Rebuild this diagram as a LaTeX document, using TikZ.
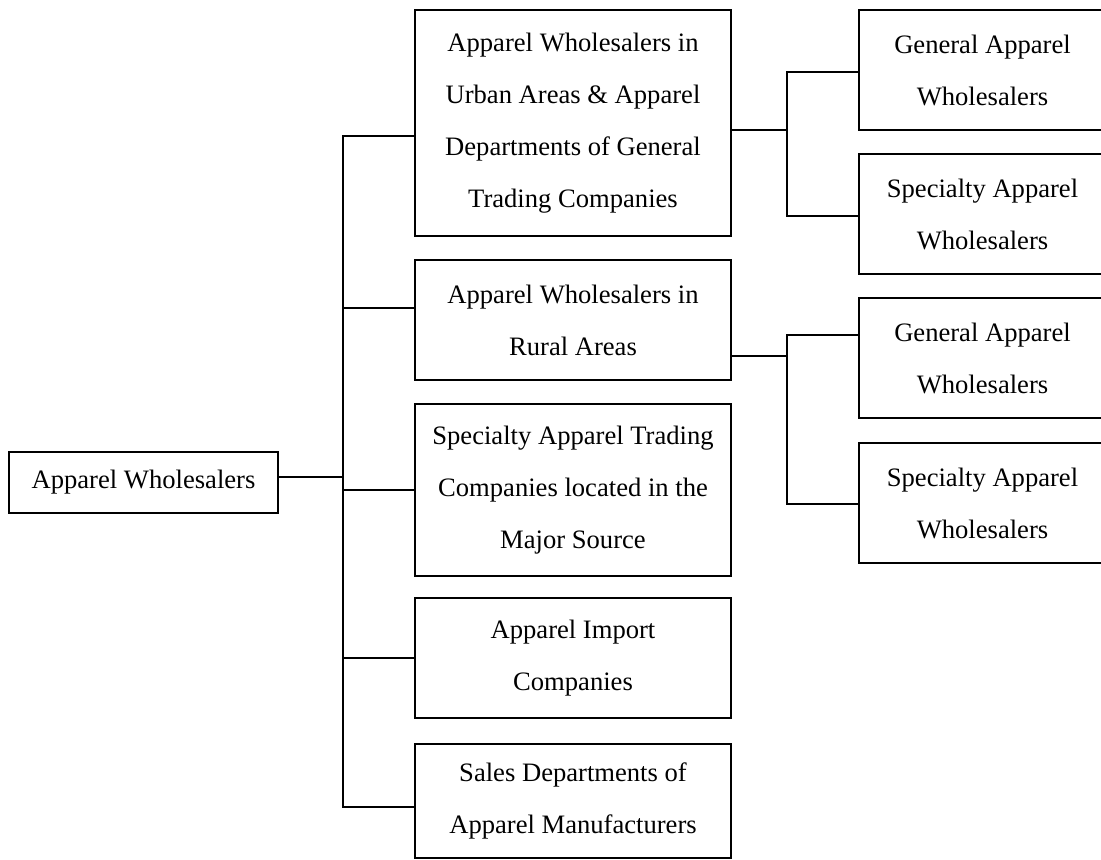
\documentclass[tikz,border=0pt]{standalone}
\usepackage{fontspec}
\setmainfont{Liberation Serif}
\begin{document}
\begin{tikzpicture}[x=1bp,y=-1bp,
  line width=1.8bp,
  box/.style={draw, line width=1.8bp, inner sep=0pt, align=center,
    font=\fontsize{26.6bp}{52bp}\selectfont},
  midbox/.style={box, minimum width=316bp},
  rightbox/.style={box, minimum width=247bp, minimum height=120bp},
  conn/.style={draw, line width=1.8bp}
]
\useasboundingbox (0,0) rectangle (1101,860);
\clip (0,0) rectangle (1101,860);

% root
\node[box, minimum width=269bp, minimum height=61bp] (root) at (143.5,482.5) {Apparel Wholesalers};

% middle column
\node[midbox, minimum height=226bp] (m1) at (573,123)
  {Apparel Wholesalers in\\Urban Areas \& Apparel\\Departments of General\\Trading Companies};
\node[midbox, minimum height=120bp] (m2) at (573,320)
  {Apparel Wholesalers in\\Rural Areas};
\node[midbox, minimum height=172bp] (m3) at (573,490)
  {Specialty Apparel Trading\\Companies located in the\\Major Source};
\node[midbox, minimum height=120bp] (m4) at (573,658)
  {Apparel Import\\Companies};
\node[midbox, minimum height=114bp] (m5) at (573,801)
  {Sales Departments of\\Apparel Manufacturers};

% right column
\node[rightbox] (r1) at (982.5,70) {General Apparel\\Wholesalers};
\node[rightbox] (r2) at (982.5,214) {Specialty Apparel\\Wholesalers};
\node[rightbox] (r3) at (982.5,358) {General Apparel\\Wholesalers};
\node[rightbox] (r4) at (982.5,503) {Specialty Apparel\\Wholesalers};

% trunk coordinates
\coordinate (tk0) at (343,477);
\coordinate (tk1) at (343,136);
\coordinate (tk2) at (343,308);
\coordinate (tk3) at (343,490);
\coordinate (tk4) at (343,658);
\coordinate (tk5) at (343,807);

\path[conn] (root.east |- tk0) -- (tk0);
\path[conn] (tk1 -| m1.west) -- (tk1) -- (tk5) -- (tk5 -| m5.west);
\path[conn] (tk2) -- (tk2 -| m2.west);
\path[conn] (tk3) -- (tk3 -| m3.west);
\path[conn] (tk4) -- (tk4 -| m4.west);

% upper right branch
\coordinate (ua) at (787,130);
\coordinate (ua1) at (787,72);
\coordinate (ua2) at (787,216);
\path[conn] (m1.east |- ua) -- (ua);
\path[conn] (ua1 -| r1.west) -- (ua1) -- (ua2) -- (ua2 -| r2.west);

% lower right branch
\coordinate (rb) at (787,356);
\coordinate (rb1) at (787,335);
\coordinate (rb2) at (787,504);
\path[conn] (m2.east |- rb) -- (rb);
\path[conn] (rb1 -| r3.west) -- (rb1) -- (rb2) -- (rb2 -| r4.west);
\end{tikzpicture}
\end{document}
